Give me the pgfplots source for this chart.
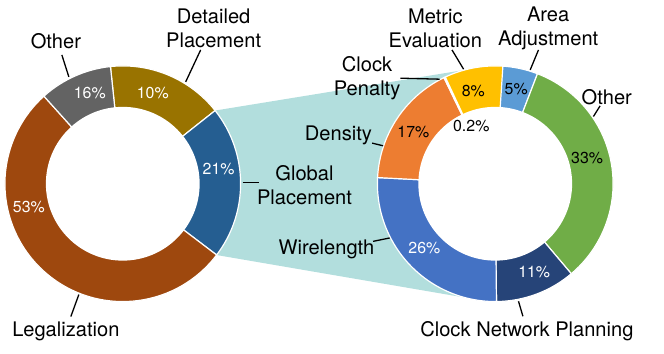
\documentclass[border=0pt]{standalone}
\usepackage{pgfplots}
\pgfplotsset{compat=1.18}
\usepackage{fontspec}
\setmainfont{TeX Gyre Heros}

\definecolor{legal}{HTML}{9E480E}
\definecolor{othergray}{HTML}{636363}
\definecolor{detailed}{HTML}{997300}
\definecolor{globalpl}{HTML}{255E91}
\definecolor{wirelen}{HTML}{4472C4}
\definecolor{cnp}{HTML}{264478}
\definecolor{othergreen}{HTML}{70AD47}
\definecolor{area}{HTML}{5B9BD5}
\definecolor{metric}{HTML}{FFC000}
\definecolor{density}{HTML}{ED7D31}
\definecolor{clockpen}{HTML}{A5A5A5}
\definecolor{linkteal}{HTML}{B2DEDD}

\newcommand\lab{\fontsize{20.2}{24}\selectfont}
\newcommand\pct{\fontsize{16}{18}\selectfont}

% wedge: centre x, centre y, start angle, cumulative %, value %, colour
\newcommand\ringwedge[6]{%
  \pgfmathsetmacro\wa{#3-3.6*#4}%
  \pgfmathsetmacro\wb{#3-3.6*(#4+#5)}%
  \edef\temp{\noexpand\fill[#6, draw=white, line width=1.2pt] (#1,#2) -- ++(\wa:118)
    arc[start angle=\wa, end angle=\wb, radius=118] -- cycle;}%
  \temp}

\begin{document}
\begin{tikzpicture}
\begin{axis}[
  width=664bp, height=354bp, scale only axis,
  xmin=0, xmax=664, ymin=0, ymax=354,
  hide axis, clip=false
]
% keep the full frame as bounding box
\path (0,0) rectangle (664,354);

% link between the two rings
\addplot[fill=linkteal, draw=none] coordinates {(216,98.6) (214.5,243.3) (464.5,284) (464.5,56)};

% left ring: Detailed, Global, Legalization, Other
\ringwedge{122}{170}{96}{0}{16}{detailed}
\ringwedge{122}{170}{96}{16}{21}{globalpl}
\ringwedge{122}{170}{96}{37}{53}{legal}
\ringwedge{122}{170}{96}{90}{10}{othergray}
\fill[white] (122,170) circle[radius=77];

% right ring: Area, Other, Clock Network Planning, Wirelength, Density, Clock Penalty, Metric
\ringwedge{495}{170}{87}{0}{5}{area}
\ringwedge{495}{170}{87}{5}{33}{othergreen}
\ringwedge{495}{170}{87}{38}{11}{cnp}
\ringwedge{495}{170}{87}{49}{26}{wirelen}
\ringwedge{495}{170}{87}{75}{17}{density}
\ringwedge{495}{170}{87}{92}{0.2}{clockpen}
\ringwedge{495}{170}{87}{92.2}{8}{metric}
\fill[white] (495,170) circle[radius=77];

% leader lines
\draw[line width=1.3pt] (61,299) -- (68,277);
\draw[line width=1.3pt] (200,304) -- (185,272);
\draw[line width=1.3pt] (242,171) -- (258,171);
\draw[line width=1.3pt] (78,59) -- (70,37);
\draw[line width=1.3pt] (451.7,304) -- (463.3,284.7);
\draw[line width=1.3pt] (538.3,304) -- (530,284);
\draw[line width=1.3pt] (400,275.7) -- (439.3,274.7);
\draw[line width=1.3pt] (600,248) -- (593.3,237.3);
\draw[line width=1.3pt] (371.7,210.7) -- (382.7,208);
\draw[line width=1.3pt] (372.7,112.3) -- (389.3,115.7);
\draw[line width=1.3pt] (518.3,52.3) -- (522.7,37.3);

% category labels
\node[font=\lab, align=center] at (213,326) {Detailed\\Placement};
\node[font=\lab] at (55,313) {Other};
\node[font=\lab] at (65,22) {Legalization};
\node[font=\lab, align=center] at (304,169) {Global\\Placement};
\node[font=\lab, align=center] at (435,326) {Metric\\Evaluation};
\node[font=\lab, align=center] at (548,326) {Area\\Adjustment};
\node[font=\lab, align=center] at (366.7,275.3) {Clock\\Penalty};
\node[font=\lab] at (606.7,257) {Other};
\node[font=\lab] at (338,218) {Density};
\node[font=\lab] at (326,104) {Wirelength};
\node[font=\lab] at (526.7,22) {Clock Network Planning};

% value labels
\node[font=\pct, white] at (89,261) {16\%};
\node[font=\pct, white] at (152,261) {10\%};
\node[font=\pct, white] at (218,185) {21\%};
\node[font=\pct, white] at (28,147) {53\%};
\node[font=\pct] at (473,263.3) {8\%};
\node[font=\pct] at (516,265) {5\%};
\node[font=\pct] at (471,228) {0.2\%};
\node[font=\pct] at (413,221.3) {17\%};
\node[font=\pct] at (587,196) {33\%};
\node[font=\pct, white] at (424,106) {26\%};
\node[font=\pct, white] at (534,81.3) {11\%};
\end{axis}
\end{tikzpicture}
\end{document}
